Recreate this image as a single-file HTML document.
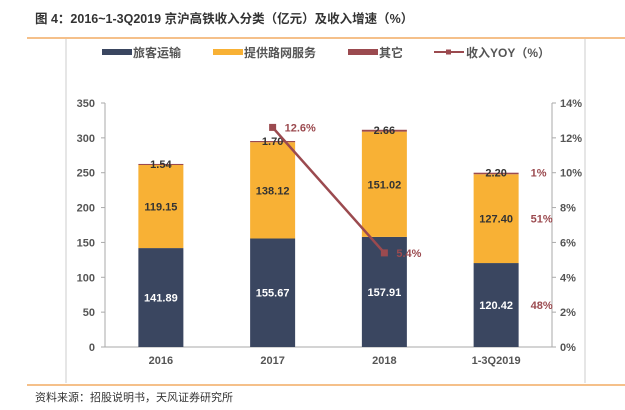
<!DOCTYPE html>
<html><head><meta charset="utf-8"><style>
body{margin:0;background:#fff;font-family:"Liberation Sans","Noto Sans CJK SC",sans-serif;}
</style></head><body>
<svg width="625" height="405" viewBox="0 0 625 405" xmlns="http://www.w3.org/2000/svg" font-family="Liberation Sans, Noto Sans CJK SC, sans-serif">
<text x="35" y="23" font-size="12.5" font-weight="bold" fill="#333">图 4：2016~1-3Q2019 京沪高铁收入分类（亿元）及收入增速（%）</text>
<line x1="27" y1="38" x2="625" y2="38" stroke="#f5c08a" stroke-width="2"/>
<line x1="66" y1="39" x2="66" y2="383" stroke="#ccc"/>
<line x1="585" y1="39" x2="585" y2="383" stroke="#ccc"/>
<line x1="27" y1="385" x2="625" y2="385" stroke="#f5c08a" stroke-width="2"/>
<text x="35" y="401" font-size="11" fill="#333">资料来源：招股说明书，天风证券研究所</text>
<g font-size="12" font-weight="bold" fill="#555">
<rect x="102" y="49" width="30" height="6" fill="#3a4660"/><text x="133" y="57">旅客运输</text>
<rect x="213" y="49" width="30" height="6" fill="#f8b135"/><text x="244" y="57">提供路网服务</text>
<rect x="348" y="49" width="30" height="6" fill="#9b4a4f"/><text x="379" y="57">其它</text>
<line x1="434" y1="52" x2="464" y2="52" stroke="#9b4a4f" stroke-width="2"/><rect x="446" y="49.5" width="5" height="5" fill="#9b4a4f"/><text x="466" y="57">收入YOY（%）</text>
</g>
<g id="plot"></g>
</svg>
<script>
const categories=["2016","2017","2018","1-3Q2019"];
const passenger=[141.89,155.67,157.91,120.42];
const network=[119.15,138.12,151.02,127.40];
const other=[1.54,1.70,2.66,2.20];
const yoy=[null,12.6,5.4,null];
const leftTicks=[0,50,100,150,200,250,300,350];
const rightTicks=[0,2,4,6,8,10,12,14];
const shareLabels=["48%","51%","1%"];
const NS="http://www.w3.org/2000/svg";
const g=document.getElementById('plot');
const X0=105,X1=552,Y0=347,Y1=103;
const yL=v=>Y0-(v/350)*(Y0-Y1);
const yR=v=>Y0-(v/14)*(Y0-Y1);
const band=(X1-X0)/categories.length;
const xC=i=>X0+band*(i+0.5);
const BW=45;
function mk(t,a,txt){const e=document.createElementNS(NS,t);for(const k in a)e.setAttribute(k,a[k]);if(txt!==undefined)e.textContent=txt;g.appendChild(e);return e;}
let e;
e=mk('line',{x1:X0,y1:Y1,x2:X0,y2:Y0,stroke:'#aaa'});


e=mk('line',{x1:X1,y1:Y1,x2:X1,y2:Y0,stroke:'#aaa'});


e=mk('line',{x1:X0,y1:Y0,x2:X1,y2:Y0,stroke:'#aaa'});


leftTicks.forEach(v=>{
 e=mk('line',{x1:X0-4,y1:yL(v),x2:X0,y2:yL(v),stroke:'#aaa'});
 
 
 e=mk('text',{x:X0-10,y:yL(v)+4,'text-anchor':'end','font-size':11,'font-weight':'bold',fill:'#555'},String(v));
 
 
});
rightTicks.forEach(v=>{
 e=mk('line',{x1:X1,y1:yR(v),x2:X1+4,y2:yR(v),stroke:'#aaa'});
 
 
 e=mk('text',{x:X1+8,y:yR(v)+4,'font-size':11,'font-weight':'bold',fill:'#555'},v+'%');
 
 
});
categories.forEach((c,i)=>{
 const x=xC(i)-BW/2;
 const segs=[[0,passenger[i],'#3a4660','#fff'],[passenger[i],passenger[i]+network[i],'#f8b135','#333'],[passenger[i]+network[i],passenger[i]+network[i]+other[i],'#9b4a4f','#333']];
 const vals=[passenger[i],network[i],other[i]];
 segs.forEach((s,k)=>{
  e=mk('rect',{x:x,y:yL(s[1]),width:BW,height:yL(s[0])-yL(s[1]),fill:s[2]});
  
  
  const ly=k==2?yL(s[1])+4:(yL(s[0])+yL(s[1]))/2+4;
  e=mk('text',{x:xC(i),y:ly,'text-anchor':'middle','font-size':11,'font-weight':'bold',fill:s[3]},vals[k].toFixed(2));
  
  
 });
 e=mk('text',{x:xC(i),y:Y0+17,'text-anchor':'middle','font-size':11,'font-weight':'bold',fill:'#555'},c);
 
 
});
// share labels for last bar
const li=categories.length-1;
const sy=[(yL(0)+yL(passenger[li]))/2,(yL(passenger[li])+yL(passenger[li]+network[li]))/2,yL(passenger[li]+network[li]+other[li])];
shareLabels.forEach((s,k)=>{
 e=mk('text',{x:xC(li)+BW/2+12,y:sy[k]+4,'font-size':11,'font-weight':'bold',fill:'#9b4a4f'},s);
 
 
});
const pts=[];yoy.forEach((v,i)=>{if(v!==null)pts.push([xC(i),yR(v),v]);});
e=mk('polyline',{points:pts.map(p=>p[0]+','+p[1]).join(' '),fill:'none',stroke:'#9b4a4f','stroke-width':2.5});


pts.forEach(p=>{
 e=mk('rect',{x:p[0]-3.5,y:p[1]-3.5,width:7,height:7,fill:'#9b4a4f'});
 
 
 e=mk('text',{x:p[0]+12,y:p[1]+4,'font-size':11,'font-weight':'bold',fill:'#9b4a4f'},p[2].toFixed(1)+'%');
 
 
});
</script>
</body></html>
